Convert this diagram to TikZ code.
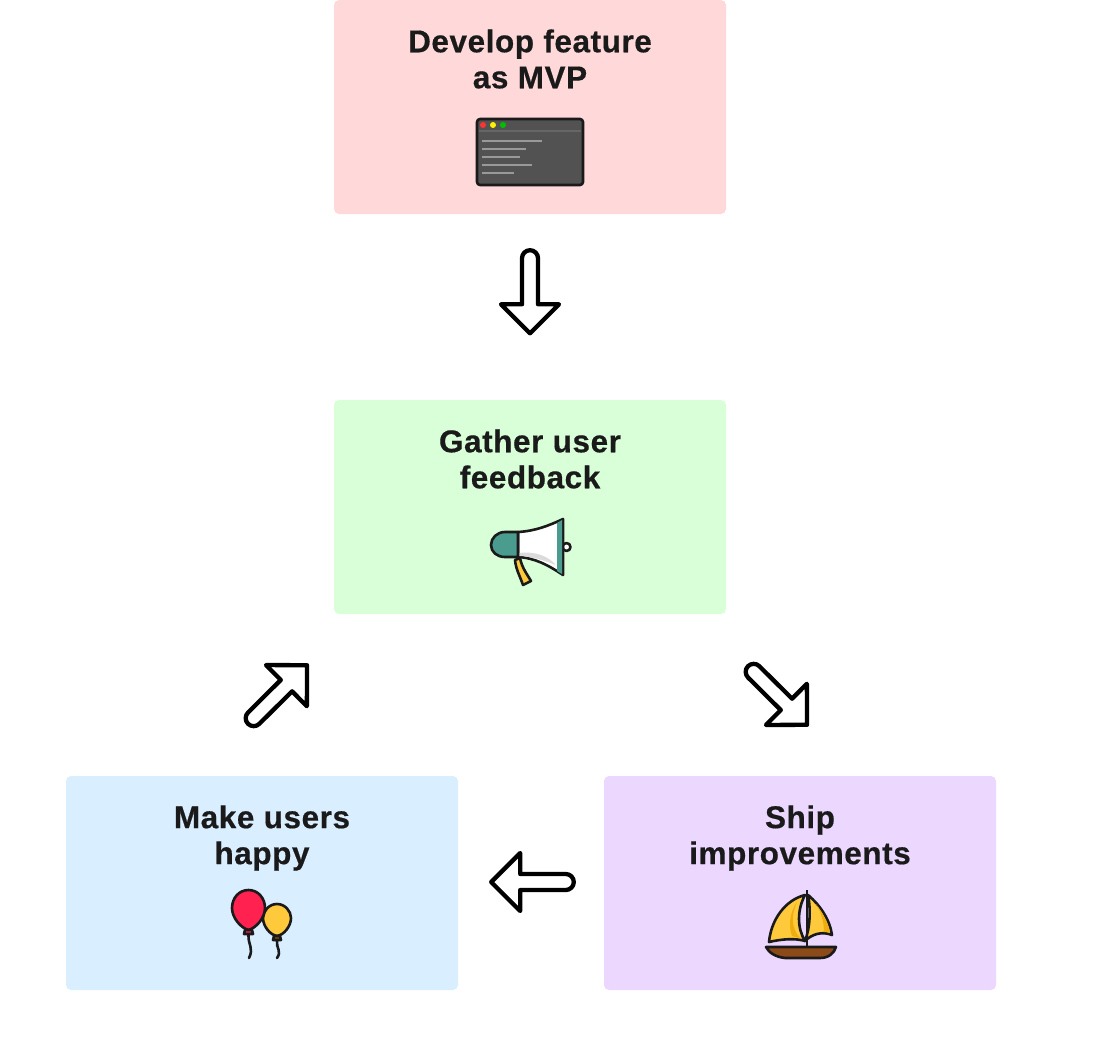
\documentclass[tikz,border=0pt]{standalone}
\usepackage{fontspec}
\setmainfont{Liberation Sans}[BoldFeatures={FakeBold=0.5,LetterSpace=1.8}]
\usetikzlibrary{calc}
\definecolor{ink}{HTML}{1A1A1A}
\definecolor{pinkbox}{HTML}{FFD9D9}
\definecolor{greenbox}{HTML}{D9FFD9}
\definecolor{bluebox}{HTML}{D9EEFF}
\definecolor{purplebox}{HTML}{EBD7FF}
\definecolor{teal}{HTML}{4A9C8F}
\definecolor{sail}{HTML}{FFC93C}
\definecolor{sailshade}{HTML}{EFAE10}
\definecolor{hull}{HTML}{8B4A17}
\definecolor{balloon}{HTML}{FF2150}
\tikzset{
	card/.style={rounded corners=5pt, minimum width=392pt, minimum height=214pt, inner sep=0pt},
	title/.style={align=center, text=ink, font=\fontsize{31.5}{36}\selectfont\bfseries},
	icon/.style={draw=ink, line width=2.6pt},
	hollow/.style={draw=black, fill=white, line width=4.3pt}
}
% hollow arrow from #1 to #2
\newcommand{\hollowarrow}[2]{
	\coordinate (hb) at ($(#2)!29pt!(#1)$);
	\draw[hollow] ($(hb)!8pt!90:(#2)$)
		{[rounded corners=8pt] -- ($(#1)!8pt!90:(#2)$) -- ($(#1)!8pt!-90:(#2)$)}
		-- ($(hb)!8pt!-90:(#2)$) -- ($(hb)!29pt!-90:(#2)$) -- (#2)
		-- ($(hb)!29pt!90:(#2)$) -- cycle;
}
\begin{document}
\begin{tikzpicture}[x=1pt, y=-1pt, line join=round, line cap=round]
	\useasboundingbox (0,0) rectangle (1094,1046);
	\node[card, fill=pinkbox] (develop) at (530,107) {};
	\node[card, fill=greenbox] (gather) at (530,507) {};
	\node[card, fill=bluebox] (happy) at (262,883) {};
	\node[card, fill=purplebox] (ship) at (800,883) {};
	\node[title] (developtext) at (530,59) {Develop feature\\as MVP};
	\node[title] (gathertext) at (530,459) {Gather user\\feedback};
	\node[title] (happytext) at (262,838) {Make users\\happy};
	\node[title] (shiptext) at (800,838) {Ship\\improvements};
	% arrows
	\coordinate (a1) at ([yshift=-36pt]develop.south);
	\coordinate (b1) at ([yshift=66.5pt]gather.north);
	\coordinate (a2) at ([shift={(218pt,-52pt)}]gather.south);
	\coordinate (b2) at ([shift={(7pt,51pt)}]ship.north);
	\coordinate (a3) at ([shift={(-30pt,1pt)}]ship.west);
	\coordinate (b3) at ([shift={(33pt,1pt)}]happy.east);
	\coordinate (a4) at ([shift={(-14pt,52pt)}]happy.north);
	\coordinate (b4) at ([shift={(-223pt,-51pt)}]gather.south);
	\hollowarrow{a1}{b1}
	\hollowarrow{a2}{b2}
	\hollowarrow{a3}{b3}
	\hollowarrow{a4}{b4}
	% window
	\draw[fill=black!68, draw=ink, line width=2.6pt, rounded corners=3pt] (477,119) rectangle (583,185);
	\draw[black!60, line width=2pt, line cap=butt] (479,130.5) -- (581,130.5);
	\fill[red!80!white] (483,125) circle (3);
	\fill[yellow] (493,125) circle (3);
	\fill[green!75!black] (503,125) circle (3);
	\foreach \xend/\yline in {542/141,526/149,520/157,532/165,514/173}
		\draw[black!40, line width=2pt, line cap=butt] (482,\yline) -- (\xend,\yline);
	% megaphone
	\draw[icon, fill=sail] (515,560) .. controls (516,570) and (520,576) .. (523,585) -- (531,581) .. controls (527,574) and (522,568) .. (520,558) -- cycle;
	\draw[icon, fill=white] (566.5,547) circle (4);
	\draw[icon, fill=white] (518,532) .. controls (535,531) and (548,526) .. (563,519) -- (563,575) .. controls (548,565) and (535,558) .. (518,557) -- cycle;
	\fill[black!14] (519,553) .. controls (535,551) and (548,556) .. (556,565) .. controls (545,561) and (532,556) .. (519,556) -- cycle;
	\fill[teal] (557,523) -- (562,520) -- (562,574) -- (557,571) -- cycle;
	\draw[icon, fill=teal] (518,532) -- (505,532) .. controls (497,532) and (491,538) .. (491,545) .. controls (491,552) and (497,557) .. (505,557) -- (518,557) -- cycle;
	% balloons
	\draw[icon, fill=sail] (277,904) .. controls (285,904) and (291,911) .. (291,918) .. controls (291,926) and (284,935) .. (277,936) .. controls (270,935) and (263,926) .. (263,918) .. controls (263,911) and (269,904) .. (277,904) -- cycle;
	\draw[icon, fill=hull] (274,936) -- (280,936) -- (281,940) -- (273,940) -- cycle;
	\draw[icon, fill=balloon] (248.5,890) .. controls (258,890) and (265,898) .. (265,908) .. controls (265,918) and (256,928) .. (248.5,930) .. controls (241,928) and (232,918) .. (232,908) .. controls (232,898) and (239,890) .. (248.5,890) -- cycle;
	\draw[icon, fill=balloon] (245,930) -- (252,930) -- (253,934) -- (244,934) -- cycle;
	\draw[icon, fill=none] (248.5,935) .. controls (248,945) and (254,948) .. (249,958);
	\draw[icon, fill=none] (277,941) .. controls (276,948) and (282,951) .. (277,958);
	% boat
	\draw[icon, line cap=butt] (807,890) -- (807,947);
	\draw[icon, fill=sail] (805,895) .. controls (785,900) and (771,920) .. (769,942) .. controls (782,939) and (795,938) .. (805,941) .. controls (797,928) and (797,910) .. (805,895) -- cycle;
	\fill[sailshade] (797,902) .. controls (791,915) and (791,928) .. (800,938) .. controls (796,937) and (794,937) .. (792,936) .. controls (788,925) and (790,912) .. (797,902) -- cycle;
	\draw[icon, fill=sail] (808,895) .. controls (820,905) and (830,920) .. (832,935) .. controls (822,931) and (812,934) .. (805,941) .. controls (810,928) and (811,910) .. (808,895) -- cycle;
	\fill[sailshade] (816,904) .. controls (823,913) and (828,922) .. (830,933) .. controls (827,932) and (826,932) .. (824,932) .. controls (824,922) and (821,912) .. (816,904) -- cycle;
	\draw[icon, fill=hull] (766,947) -- (836,947) .. controls (834,953) and (829,958) .. (820,958) -- (785,958) .. controls (776,957) and (769,953) .. (766,947) -- cycle;
\end{tikzpicture}
\end{document}
